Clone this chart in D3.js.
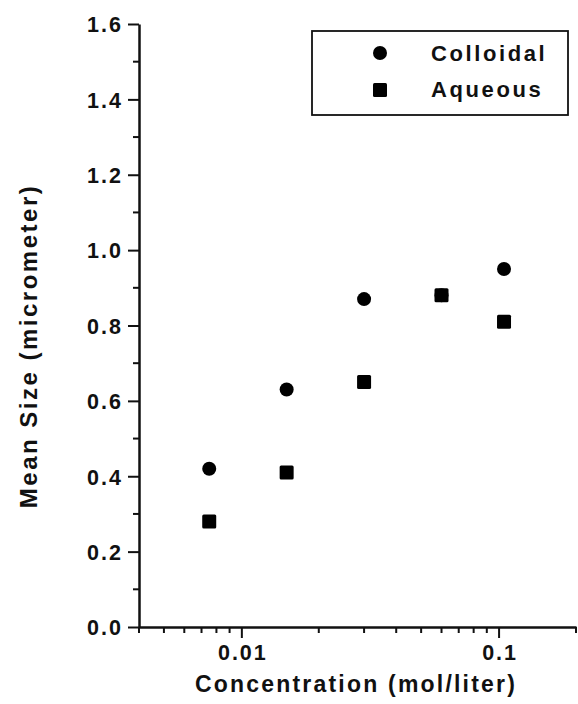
<!DOCTYPE html>
<html>
<head>
<meta charset="utf-8">
<script src="https://cdn.jsdelivr.net/npm/d3@7"></script>
<style>
  body { margin: 0; background: #fff; }
  svg text { font-family: "Liberation Sans", Arial, sans-serif; font-weight: bold; fill: #111; }
</style>
</head>
<body>
<svg id="chart" width="578" height="704"></svg>
<script>
// data
const concentrations = [0.0075, 0.015, 0.03, 0.06, 0.105];
const colloidal = [0.42, 0.63, 0.87, 0.88, 0.95];
const aqueous = [0.28, 0.41, 0.65, 0.88, 0.81];
const seriesNames = ["Colloidal", "Aqueous"];
const yTicks = [0, 0.2, 0.4, 0.6, 0.8, 1.0, 1.2, 1.4, 1.6];
const xTicks = [0.01, 0.1];

const svg = d3.select("#chart");
const plotLeft = 139, plotRight = 576, plotTop = 24, plotBottom = 627;

let x = d3.scaleLog().domain([0.004, 0.2]).range([plotLeft, plotRight]);
let y = d3.scaleLinear().domain([0, 1.6]).range([plotBottom, plotTop]);

// minor ticks
let minorX = [];
[0.001, 0.01, 0.1].forEach(function(dec){
  for (let k = 2; k < 10; k++) {
    let v = dec * k;
    if (v >= 0.004 && v <= 0.2) minorX.push(v);
  }
});
let minorY = d3.range(0.1, 1.6, 0.2);

svg.append("g").selectAll("line").data(minorX).enter().append("line")
  .attr("x1", d => x(d)).attr("x2", d => x(d))
  .attr("y1", plotBottom).attr("y2", plotBottom + 6)
  .attr("stroke", "#111").attr("stroke-width", 2);

svg.append("g").selectAll("line").data(minorY).enter().append("line")
  .attr("x1", plotLeft - 6).attr("x2", plotLeft)
  .attr("y1", d => y(d)).attr("y2", d => y(d))
  .attr("stroke", "#111").attr("stroke-width", 2);

let xAxis = d3.axisBottom(x).tickValues(xTicks).tickFormat(d3.format("")).tickSize(11).tickSizeOuter(0).tickPadding(7);
let yAxis = d3.axisLeft(y).tickValues(yTicks).tickFormat(d3.format(".1f")).tickSize(11).tickSizeOuter(0).tickPadding(5);

let gx = svg.append("g").attr("transform", "translate(0," + plotBottom + ")").call(xAxis);
let gy = svg.append("g").attr("transform", "translate(" + plotLeft + ",0)").call(yAxis);

[gx, gy].forEach(function(g){
  g.select(".domain").attr("stroke", "#111").attr("stroke-width", 2.5);
  g.selectAll(".tick line").attr("stroke", "#111").attr("stroke-width", 2);
  g.selectAll(".tick text").style("font-size", "21.5px").style("letter-spacing", "2px").attr("fill", "#111");
});
gx.selectAll(".tick text").attr("dx", "1px");
gy.selectAll(".tick text").attr("dy", "0.36em");

// axis titles
svg.append("text")
  .attr("x", 356).attr("y", 692)
  .attr("text-anchor", "middle")
  .style("font-size", "23px").style("letter-spacing", "2.2px")
  .text("Concentration (mol/liter)");

svg.append("text")
  .attr("transform", "translate(37,346) rotate(-90)")
  .attr("text-anchor", "middle")
  .style("font-size", "24px").style("letter-spacing", "2.5px")
  .text("Mean Size (micrometer)");

// points
let plot = svg.append("g");
plot.selectAll("circle").data(concentrations).enter().append("circle")
  .attr("cx", d => x(d))
  .attr("cy", (d, i) => y(colloidal[i]))
  .attr("r", 7)
  .attr("fill", "#000");

plot.selectAll("rect").data(concentrations).enter().append("rect")
  .attr("x", d => x(d) - 7)
  .attr("y", (d, i) => y(aqueous[i]) - 7)
  .attr("width", 14).attr("height", 14)
  .attr("rx", 1.5)
  .attr("fill", "#000");

// legend
let legend = svg.append("g");
legend.append("rect")
  .attr("x", 312).attr("y", 31).attr("width", 256).attr("height", 84)
  .attr("fill", "#fff").attr("stroke", "#111").attr("stroke-width", 1.8);
legend.append("circle").attr("cx", 380).attr("cy", 53).attr("r", 7).attr("fill", "#000");
legend.append("rect").attr("x", 373).attr("y", 83).attr("width", 14).attr("height", 14).attr("rx", 1.5).attr("fill", "#000");
legend.selectAll("text").data(seriesNames).enter().append("text")
  .attr("x", 431).attr("y", (d, i) => 53 + i * 36)
  .attr("dy", "0.36em")
  .style("font-size", "22px").style("letter-spacing", "2.6px")
  .text(d => d);
</script>
</body>
</html>
